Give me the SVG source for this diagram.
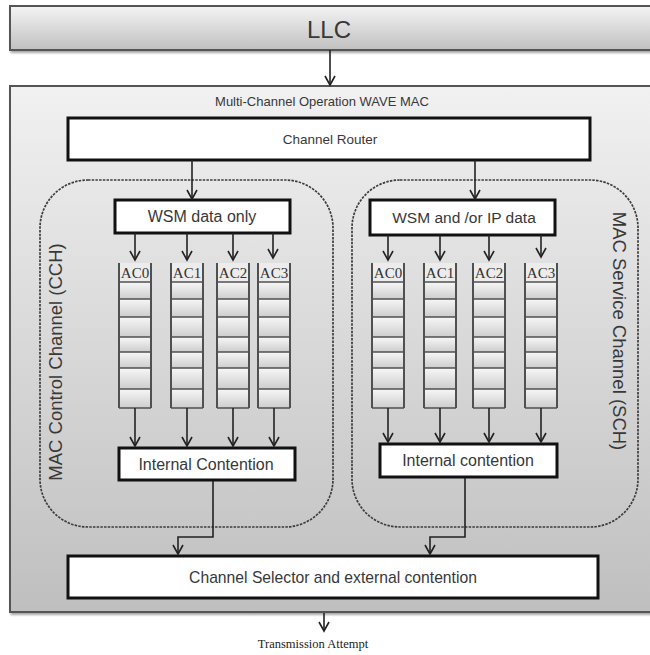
<svg xmlns="http://www.w3.org/2000/svg" xmlns:xlink="http://www.w3.org/1999/xlink" width="650" height="655" viewBox="0 0 650 655">
  <defs>
    <linearGradient id="bar" x1="0" y1="0" x2="0" y2="1">
      <stop offset="0" stop-color="#f4f4f4"/>
      <stop offset="1" stop-color="#c0c0c0"/>
    </linearGradient>
    <linearGradient id="panel" x1="0" y1="0" x2="0" y2="1">
      <stop offset="0" stop-color="#f1f1f1"/>
      <stop offset="1" stop-color="#bfbfbf"/>
    </linearGradient>
    <linearGradient id="cell" x1="0" y1="0" x2="0" y2="1">
      <stop offset="0" stop-color="#f7f7f7"/>
      <stop offset="1" stop-color="#cdcdcd"/>
    </linearGradient>
    <filter id="shadow" x="-5%" y="-5%" width="110%" height="115%">
      <feDropShadow dx="1.5" dy="2" stdDeviation="1.2" flood-color="#000" flood-opacity="0.35"/>
    </filter>
    <marker id="arrow" viewBox="0 0 12 12" refX="10" refY="6" markerWidth="12" markerHeight="12" markerUnits="userSpaceOnUse" orient="auto">
      <path d="M1,1 L10,6 L1,11" fill="none" stroke="#222" stroke-width="1.6"/>
    </marker>
    <!-- one access-category queue: header slot plus seven cells -->
    <g id="queue">
      <rect x="0" y="0" width="32" height="19" fill="#ececec"/>
      <rect x="0" y="19" width="32" height="17" fill="url(#cell)"/>
      <rect x="0" y="36" width="32" height="18" fill="url(#cell)"/>
      <rect x="0" y="54" width="32" height="20" fill="url(#cell)"/>
      <rect x="0" y="74" width="32" height="15" fill="url(#cell)"/>
      <rect x="0" y="89" width="32" height="16" fill="url(#cell)"/>
      <rect x="0" y="105" width="32" height="21" fill="url(#cell)"/>
      <rect x="0" y="126" width="32" height="19" fill="url(#cell)"/>
      <path d="M0,19 H32 M0,36 H32 M0,54 H32 M0,74 H32 M0,89 H32 M0,105 H32 M0,126 H32 M0,145 H32" stroke="#505050" stroke-width="1.6" fill="none"/>
      <path d="M0,0 V145 M32,0 V145" stroke="#505050" stroke-width="2" fill="none"/>
    </g>
  </defs>
  <style>
    .sans { font-family: "Liberation Sans", Arial, sans-serif; fill: #383838; }
    .serif { font-family: "Liberation Serif", "Times New Roman", serif; fill: #222; }
    .box { fill: #ffffff; stroke: #111; stroke-width: 3; }
    .region { fill: none; stroke: #3c3c3c; stroke-width: 1.7; stroke-dasharray: 2.5 1.2; }
    .conn { fill: none; stroke: #222; stroke-width: 1.6; }
    .ac { font-family: "Liberation Serif", "Times New Roman", serif; font-size: 15px; fill: #333; text-anchor: middle; }
  </style>

  <rect width="650" height="655" fill="#ffffff"/>

  <!-- upper layer bar -->
  <g id="llc">
    <rect x="10" y="6" width="646" height="44" fill="url(#bar)" stroke="#555" stroke-width="2" filter="url(#shadow)"/>
    <text class="sans" x="329" y="38" font-size="24" text-anchor="middle">LLC</text>
  </g>

  <!-- MAC container -->
  <g id="wave-mac">
    <rect x="10" y="86" width="646" height="526" fill="url(#panel)" stroke="#555" stroke-width="2" filter="url(#shadow)"/>
    <text class="sans" x="322" y="106" font-size="13" text-anchor="middle">Multi-Channel Operation WAVE MAC</text>
  </g>

  <g id="channel-router">
    <rect class="box" x="68" y="118" width="522" height="42"/>
    <text class="sans" x="330" y="144" font-size="13.5" text-anchor="middle">Channel Router</text>
  </g>

  <!-- channel regions -->
  <g id="cch">
    <rect class="region" x="40" y="180" width="293" height="347" rx="48" ry="48"/>
    <text class="sans" transform="translate(62,362) rotate(-90)" font-size="18.5" text-anchor="middle">MAC Control Channel (CCH)</text>
  </g>
  <g id="sch">
    <rect class="region" x="352" y="180" width="286" height="347" rx="48" ry="48"/>
    <text class="sans" transform="translate(613,331) rotate(90)" font-size="18.5" text-anchor="middle">MAC Service Channel (SCH)</text>
  </g>

  <g id="cch-classifier">
    <rect class="box" x="115" y="200" width="175" height="33"/>
    <text class="sans" x="202" y="222" font-size="16" text-anchor="middle">WSM data only</text>
  </g>
  <g id="sch-classifier">
    <rect class="box" x="370" y="200" width="185" height="35"/>
    <text class="sans" x="464" y="223" font-size="15.5" text-anchor="middle">WSM and /or IP data</text>
  </g>

  <!-- CCH access-category queues -->
  <g id="cch-ac0" transform="translate(119,263)"><use xlink:href="#queue"/><text class="ac" x="16" y="15">AC0</text></g>
  <g id="cch-ac1" transform="translate(171,263)"><use xlink:href="#queue"/><text class="ac" x="16" y="15">AC1</text></g>
  <g id="cch-ac2" transform="translate(217,263)"><use xlink:href="#queue"/><text class="ac" x="16" y="15">AC2</text></g>
  <g id="cch-ac3" transform="translate(258,263)"><use xlink:href="#queue"/><text class="ac" x="16" y="15">AC3</text></g>

  <!-- SCH access-category queues -->
  <g id="sch-ac0" transform="translate(372,263)"><use xlink:href="#queue"/><text class="ac" x="16" y="15">AC0</text></g>
  <g id="sch-ac1" transform="translate(424,263)"><use xlink:href="#queue"/><text class="ac" x="16" y="15">AC1</text></g>
  <g id="sch-ac2" transform="translate(473,263)"><use xlink:href="#queue"/><text class="ac" x="16" y="15">AC2</text></g>
  <g id="sch-ac3" transform="translate(525,263)"><use xlink:href="#queue"/><text class="ac" x="16" y="15">AC3</text></g>

  <g id="cch-contention">
    <rect class="box" x="119" y="448" width="176" height="32"/>
    <text class="sans" x="206" y="470" font-size="16" text-anchor="middle">Internal Contention</text>
  </g>
  <g id="sch-contention">
    <rect class="box" x="380" y="444" width="177" height="33"/>
    <text class="sans" x="468" y="466" font-size="16" text-anchor="middle">Internal contention</text>
  </g>

  <g id="channel-selector">
    <rect class="box" x="68" y="556" width="530" height="42"/>
    <text class="sans" x="333" y="583" font-size="15.7" text-anchor="middle">Channel Selector and external contention</text>
  </g>

  <g id="transmission-attempt">
    <text class="serif" x="313" y="648" font-size="12.5" text-anchor="middle">Transmission Attempt</text>
  </g>

  <!-- connectors -->
  <g id="connectors" class="conn">
    <path class="conn" d="M330,50 V85" marker-end="url(#arrow)"/>
    <path class="conn" d="M192,160 V199" marker-end="url(#arrow)"/>
    <path class="conn" d="M475,160 V199" marker-end="url(#arrow)"/>

    <path class="conn" d="M135,233 V260" marker-end="url(#arrow)"/>
    <path class="conn" d="M187,233 V260" marker-end="url(#arrow)"/>
    <path class="conn" d="M233,233 V260" marker-end="url(#arrow)"/>
    <path class="conn" d="M273,233 V258" marker-end="url(#arrow)"/>

    <path class="conn" d="M388,235 V260" marker-end="url(#arrow)"/>
    <path class="conn" d="M440,235 V260" marker-end="url(#arrow)"/>
    <path class="conn" d="M489,235 V260" marker-end="url(#arrow)"/>
    <path class="conn" d="M541,235 V257" marker-end="url(#arrow)"/>

    <path class="conn" d="M135,408 V446" marker-end="url(#arrow)"/>
    <path class="conn" d="M187,408 V446" marker-end="url(#arrow)"/>
    <path class="conn" d="M233,408 V446" marker-end="url(#arrow)"/>
    <path class="conn" d="M274,408 V446" marker-end="url(#arrow)"/>

    <path class="conn" d="M388,408 V442" marker-end="url(#arrow)"/>
    <path class="conn" d="M440,408 V442" marker-end="url(#arrow)"/>
    <path class="conn" d="M489,408 V442" marker-end="url(#arrow)"/>
    <path class="conn" d="M541,408 V442" marker-end="url(#arrow)"/>

    <path class="conn" d="M213,481 V537 H178 V554" marker-end="url(#arrow)"/>
    <path class="conn" d="M465,478 V537 H430 V554" marker-end="url(#arrow)"/>

    <path class="conn" d="M324,613 V631" marker-end="url(#arrow)"/>
  </g>
</svg>
